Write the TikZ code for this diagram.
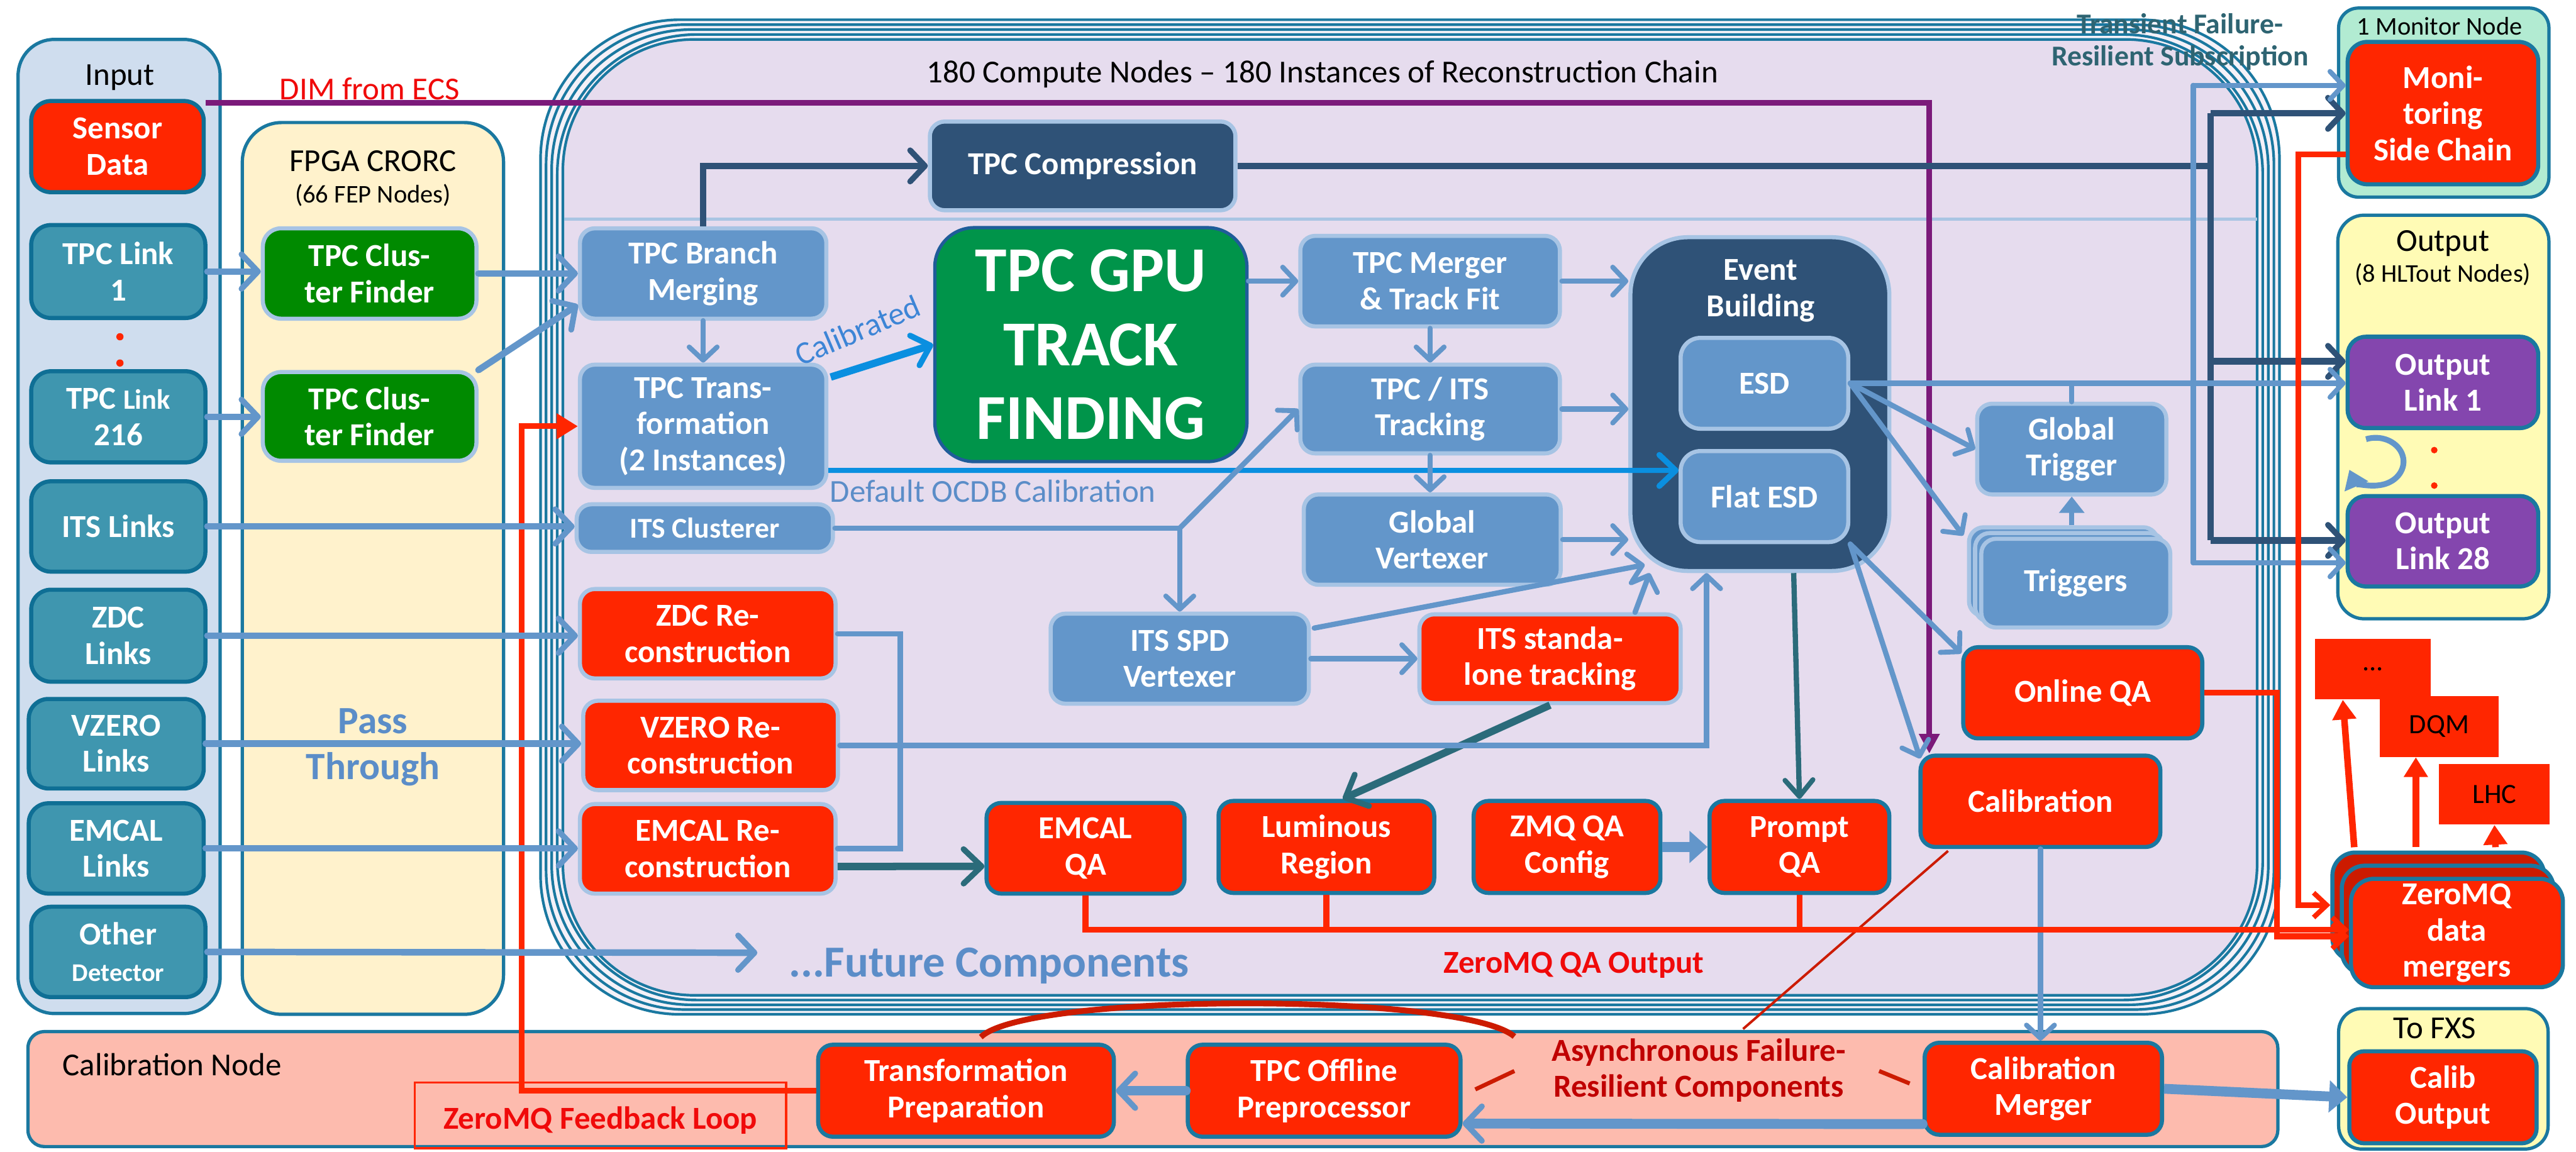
\documentclass[tikz,border=0pt]{standalone}
\usepackage{fontspec}
\setmainfont{Carlito}
\usetikzlibrary{arrows.meta,calc}

\definecolor{cTeal}{HTML}{1A78A0}
\definecolor{cInFill}{HTML}{CFDDEE}
\definecolor{cLink}{HTML}{3F96AF}
\definecolor{cLinkB}{HTML}{0F6F95}
\definecolor{cFpga}{HTML}{FFF2CC}
\definecolor{cCF}{HTML}{008A00}
\definecolor{cLB}{HTML}{6396CA}
\definecolor{cLBb}{HTML}{A7C4E4}
\definecolor{cNavy}{HTML}{2F5277}
\definecolor{cRed}{HTML}{FF2600}
\definecolor{cRedD}{HTML}{CC1B00}
\definecolor{cGPU}{HTML}{00944A}
\definecolor{cGPUb}{HTML}{1F5C99}
\definecolor{cLav}{HTML}{E6DCEE}
\definecolor{cLavO}{HTML}{F4F1F8}
\definecolor{cPurp}{HTML}{8446AE}
\definecolor{cDim}{HTML}{7B1A7A}
\definecolor{cDTeal}{HTML}{2B6B7A}
\definecolor{cBright}{HTML}{0A8FE0}
\definecolor{cYel}{HTML}{FFFBB5}
\definecolor{cMint}{HTML}{B2EBD2}
\definecolor{cSalmon}{HTML}{FDBBAE}
\definecolor{cDRed}{HTML}{C00000}
\definecolor{cTrans}{HTML}{2E6472}
\definecolor{cSep}{HTML}{A9C5E3}
\definecolor{cTextB}{HTML}{5B8DC8}
\definecolor{cCalTxt}{HTML}{3D85D6}
\definecolor{cPureRed}{HTML}{F00A0A}

\newcommand\nf{\fontsize{19.5}{22}\selectfont\bfseries}
\newcommand\lf{\fontsize{19.5}{22}\selectfont}
\newcommand\slf{\fontsize{15.5}{18}\selectfont}

% box from corner (x1,y1) to (x2,y2)
\newcommand\mkbox[7]{%
  \pgfmathsetmacro\bw{#4-#2}\pgfmathsetmacro\bh{#5-#3}%
  \pgfmathsetmacro\bcx{(#2+#4)/2}\pgfmathsetmacro\bcy{(#3+#5)/2}%
  \node[#6, minimum width=\bw pt, minimum height=\bh pt] (#1) at (\bcx,\bcy) {#7};}

\tikzset{
  nb/.style={rounded corners=9, align=center, text=white, inner sep=0, font=\nf, line width=2.5},
  lbn/.style={nb, fill=cLB, draw=cLBb},
  navyn/.style={nb, fill=cNavy, draw=cLBb},
  redl/.style={nb, fill=cRed, draw=cLBb},
  redt/.style={nb, fill=cRed, draw=cTeal},
  reddk/.style={nb, fill=cRedD, draw=cTeal},
  linkn/.style={nb, fill=cLink, draw=cLinkB, rounded corners=12},
  cfn/.style={nb, fill=cCF, draw=cLBb, rounded corners=11},
  outn/.style={nb, fill=cPurp, draw=cTeal, rounded corners=11},
  sqbox/.style={fill=cRed, inner sep=0, font=\fontsize{17}{20}\selectfont, text=black},
  cont/.style={draw=cTeal, line width=2},
  lbl/.style={font=\lf, text=black, inner sep=0},
  flowline/.style={draw=cLB, line width=3.2, line cap=round},
  flow/.style={flowline, -{Straight Barb[length=8pt,width=17pt,line width=3pt,round]}},
  flowbig/.style={draw=cLB, line width=4, line cap=round, -{Straight Barb[length=10pt,width=21pt,line width=3.5pt,round]}},
  flowtri/.style={draw=cLB, line width=3.2, -{Triangle[length=10pt,width=15pt]}},
  flowfat/.style={draw=cLB, line width=6, -{Triangle[length=11pt,width=19pt]}},
  navyline/.style={draw=cNavy, line width=4},
  navyarrow/.style={navyline, -{Straight Barb[length=9pt,width=19pt,line width=3.5pt,round]}},
  dteal/.style={draw=cDTeal, line width=3.2, -{Straight Barb[length=10pt,width=17pt,line width=3pt,round]}},
  dtealbig/.style={draw=cDTeal, line width=4.5, -{Straight Barb[length=11pt,width=21pt,line width=3.5pt,round]}},
  bright/.style={draw=cBright, line width=3, -{Straight Barb[length=10pt,width=19pt,line width=3.5pt,round]}},
  dimline/.style={draw=cDim, line width=3.5, -{Triangle[length=12pt,width=12pt]}},
  redline/.style={draw=cRed, line width=3.5},
  redarrow/.style={redline, -{Straight Barb[length=8pt,width=15pt,line width=3pt]}},
  redup/.style={draw=cRed, line width=4, -{Triangle[length=12pt,width=14pt]}},
  redfeed/.style={draw=cRed, line width=3.5, -{Triangle[length=13pt,width=15pt]}},
  asyn/.style={draw=cRedD},
}

\begin{document}
\begin{tikzpicture}[x=1pt,y=-1pt]
\useasboundingbox (0,0) rectangle (1568,701);
\fill[white] (0,0) rectangle (1568,701);

% ---------- containers ----------
\draw[cont, fill=cInFill, rounded corners=22] (11,24) rectangle (134,617);
\draw[cont, fill=cFpga, rounded corners=24] (147.5,74.6) rectangle (306.5,617.5);
\foreach \i in {0,...,3}
  \draw[cont, line width=1.6, fill=cLavO, rounded corners=85]
    ({329+3.4*\i},{12+3*\i}) rectangle ({1387.5-3.4*\i},{617.5-2.9*\i});
\draw[cont, line width=1.6, fill=cLav, rounded corners=80] (342.6,24) rectangle (1373.9,605.9);
\draw[cSep, line width=2] (343.5,133.5) -- (1374,133.5);
\draw[cont, fill=cMint, rounded corners=12] (1423.5,4.9) rectangle (1551.5,120);
\draw[cont, fill=cYel, rounded corners=16] (1423,131) rectangle (1551.5,376.7);
\draw[cont, fill=cSalmon, rounded corners=10] (17,628) rectangle (1386.5,698);
\draw[cont, fill=cYel, rounded corners=14] (1423.5,614) rectangle (1551,699.5);

% ---------- container titles ----------
\node[lbl] (tInput) at (73,47) {Input};
\node[lbl] (tFpga) at (227,98) {FPGA CRORC};
\node[lbl, font=\slf] (tFep) at (227,119) {(66 FEP Nodes)};
\node[lbl] (tCompute) at (805,45) {180 Compute Nodes -- 180 Instances of Reconstruction Chain};
\node[lbl, font=\slf] (tMon) at (1485,16) {1 Monitor Node};
\node[lbl] (tOut) at (1487,148) {Output};
\node[lbl, font=\slf] (tHlt) at (1487,167) {(8 HLTout Nodes)};
\node[lbl, anchor=west] (tCal) at (38,648) {Calibration Node};
\node[lbl] (tFxs) at (1482,626) {To FXS};

% ---------- input links ----------
\mkbox{sensor}{19}{61.5}{124}{117}{nb, fill=cRed, draw=cLinkB, rounded corners=12}{Sensor\\Data}
\mkbox{link1}{19}{137}{125}{193.6}{linkn}{TPC Link\\1}
\mkbox{link216}{19}{226}{125}{281.5}{linkn}{TPC {\fontsize{17}{20}\selectfont Link}\\216}
\mkbox{itslinks}{19}{293}{125}{348}{linkn}{ITS Links}
\mkbox{zdclinks}{19}{359}{125}{415}{linkn}{ZDC\\Links}
\mkbox{vzerolinks}{17.5}{425.5}{124}{480}{linkn}{VZERO\\Links}
\mkbox{emcallinks}{17.5}{489}{124}{544}{linkn}{EMCAL\\Links}
\mkbox{other}{19}{552}{125}{607}{linkn}{Other\\{\fontsize{15.5}{18}\selectfont Detector}}
\fill[cRed] (73,205) circle (2.2) (73,221) circle (2.2);

% ---------- FPGA ----------
\mkbox{cf1}{160}{139}{290}{194}{cfn}{TPC Clus-\\ter Finder}
\mkbox{cf2}{160}{226.5}{290}{280.5}{cfn}{TPC Clus-\\ter Finder}

% ---------- compute nodes ----------
\mkbox{comp}{566}{74}{752}{128}{navyn}{TPC Compression}
\mkbox{merge}{353}{139}{503}{194}{lbn}{TPC Branch\\Merging}
\mkbox{trans}{353}{222}{503}{297}{lbn}{TPC Trans-\\formation\\(2 Instances)}
\mkbox{itscl}{351}{307}{507}{336}{lbn, font=\fontsize{17.5}{20}\selectfont\bfseries}{ITS Clusterer}
\mkbox{gpu}{569}{138.6}{759}{281}{nb, fill=cGPU, draw=cGPUb, line width=2, rounded corners=24, font=\fontsize{39}{45}\selectfont\bfseries}{TPC GPU\\TRACK\\FINDING}
\mkbox{merger}{791.5}{143.6}{949.5}{198.7}{lbn}{TPC Merger\\\& Track Fit}
\mkbox{tpcits}{791.5}{222}{949.5}{276}{lbn}{TPC / ITS\\Tracking}
\mkbox{gvtx}{793.6}{301}{950}{356}{lbn}{Global\\Vertexer}
\mkbox{event}{992.4}{144.4}{1150}{347.6}{navyn, rounded corners=35}{}
\node[font=\nf, text=white, align=center] (eventlbl) at (1071.7,177) {Event\\Building};
\mkbox{esd}{1023}{205.7}{1125}{261}{lbn, rounded corners=12}{ESD}
\mkbox{flat}{1023}{274.6}{1125}{330}{lbn, rounded corners=12}{Flat ESD}
\mkbox{spd}{639.5}{373.6}{796.7}{428.4}{lbn}{ITS SPD\\Vertexer}
\mkbox{itssa}{864}{374}{1023}{428}{redl}{ITS standa-\\lone tracking}
\mkbox{zdcre}{353}{358.6}{508.6}{413}{redl}{ZDC Re-\\construction}
\mkbox{vzre}{355}{426.6}{510}{481}{redl}{VZERO Re-\\construction}
\mkbox{emre}{353}{489.5}{508.6}{544}{redl}{EMCAL Re-\\construction}
\mkbox{emqa}{600.5}{488.8}{721}{544}{redt}{EMCAL\\QA}
\mkbox{lumi}{741.7}{487.6}{873}{543.6}{redt}{Luminous\\Region}
\mkbox{zmq}{897}{487.6}{1010.7}{543.6}{redt}{ZMQ QA\\Config}
\mkbox{prompt}{1040.6}{487.6}{1150}{543.6}{redt}{Prompt\\QA}
\mkbox{calib}{1169}{460}{1315}{515.6}{redt}{Calibration}
\mkbox{onlineqa}{1195}{394}{1340.5}{449.5}{redt}{Online QA}
\mkbox{gtrig}{1203.5}{245.8}{1318.6}{301}{lbn}{Global\\Trigger}
\mkbox{trigA}{1198.5}{321}{1313.5}{375}{lbn}{}
\mkbox{trigB}{1202.2}{324.5}{1317.2}{378.5}{lbn}{}
\mkbox{trigC}{1206}{328}{1321}{382}{lbn}{Triggers}

% ---------- monitor / output ----------
\mkbox{monitoring}{1429}{25.5}{1545}{112.2}{redt, rounded corners=12}{Moni-\\toring\\Side Chain}
\mkbox{ol1}{1429}{205}{1545}{260.6}{outn}{Output\\Link 1}
\mkbox{ol28}{1429}{302}{1545}{357}{outn}{Output\\Link 28}
\fill[cRed] (1481.7,274) circle (2) (1481.7,295.6) circle (2);
\draw[draw=cLB, line width=3.5, -{Triangle[length=11pt,width=15pt]}]
  (1446,281) ++(-110:17 and 14.5) arc[start angle=-110, end angle=160, x radius=17, y radius=14.5];

% ---------- QA mergers and sinks ----------
\mkbox{dotsb}{1409}{389}{1479.7}{425.8}{sqbox}{...}
\mkbox{dqm}{1448.4}{423.8}{1521}{460.8}{sqbox}{DQM}
\mkbox{lhc}{1484.7}{465}{1552}{502}{sqbox}{LHC}
\mkbox{mergA}{1419.7}{519}{1548.7}{585}{reddk, rounded corners=14}{}
\mkbox{mergB}{1425.4}{527}{1554.4}{593}{reddk, rounded corners=14}{}
\mkbox{mergC}{1431}{535}{1560}{601}{redt, rounded corners=14}{ZeroMQ\\data\\mergers}

% ---------- calibration node ----------
\mkbox{fbbox}{252.5}{659}{478.5}{699}{draw=cRed, line width=1.3, inner sep=0}{}
\node[font=\nf, text=cPureRed] (fbtxt) at (365.5,682) {ZeroMQ Feedback Loop};
\mkbox{transprep}{498}{636}{678}{692}{redt}{Transformation\\Preparation}
\mkbox{offline}{723}{636}{889}{692}{redt}{TPC Offline\\Preprocessor}
\mkbox{cmerger}{1171.5}{634.8}{1316}{690.8}{redt}{Calibration\\Merger}
\mkbox{calibout}{1430}{640}{1544}{696}{redt}{Calib\\Output}

% ---------- helper coordinates ----------
\coordinate (futtip) at (461,580);
\coordinate (navyj) at (1345.6,101);
\coordinate (nvTop) at (1345.6,69);
\coordinate (nvMid) at (1345.6,220);
\coordinate (nvBot) at (1345.6,329);
\coordinate (lbTop) at (1335,52);
\coordinate (lbBot) at (1335,342.6);
\coordinate (trigin) at (1195,326);
\coordinate (fbcol) at (317.5,450);
\coordinate (brkB) at (548,516.6);
\coordinate (busY) at (0,566);
\coordinate (oqCol) at (1385.8,500);
\coordinate (monCol) at (1399,300);
\coordinate (arcEnd) at (921.8,631);
\coordinate (asynA) at (1061,626.4);

% ---------- feedback loop (drawn beneath the input flows) ----------
\draw[redfeed] (transprep.west) -| (fbcol) |- (trans.west);

% ---------- DIM from ECS ----------
\draw[dimline] ($(sensor.north east)+(0,2.5)$) -| ($(calib.north west)+(6.6,0)$);

% ---------- input flows ----------
\draw[flowbig] (link1.east) -- (cf1.west |- link1.east);
\draw[flowbig] (link216.east) -- (cf2.west |- link216.east);
\draw[flowbig] (cf1.east) -- (merge.west |- cf1.east);
\draw[flowbig] (cf2.north east) -- ($(merge.west)+(0,19)$);
\draw[flowbig] (itslinks.east) -- (itscl.west |- itslinks.east);
\draw[flowbig] (zdclinks.east) -- (zdcre.west |- zdclinks.east);
\draw[flowbig] (vzerolinks.east) -- (vzre.west |- vzerolinks.east);
\draw[flowbig] (emcallinks.east) -- (emre.west |- emcallinks.east);
\draw[flowbig] (other.east) -- (futtip);

% ---------- TPC chain ----------
\draw[flow] (merge.south) -- (trans.north);
\draw[navyarrow] (merge.north) |- (comp.west);
\draw[bright, line width=4.5] ($(trans.north east)+(1.4,8.8)$) -- (gpu.west);
\draw[bright] ($(trans.east)+(0,26.9)$) -- ($(flat.west)+(0,-15.9)$);
\draw[flow] (gpu.east |- merger.west) -- (merger.west);
\draw[flow] (merger.east) -- (event.west |- merger.east);
\draw[flow] (merger.south) -- (tpcits.north);
\draw[flow] (tpcits.east) -- (event.west |- tpcits.east);
\draw[flow] (tpcits.south) -- (tpcits.south |- gvtx.north);
\draw[flow] (gvtx.east) -- (event.west |- gvtx.east);

% ---------- ITS ----------
\draw[flowline] (itscl.east) -- (itscl.east -| spd.north);
\draw[flow] (itscl.east -| spd.north) -- (spd.north);
\draw[flow] (itscl.east -| spd.north) -- (tpcits.west);
\draw[flow] (spd.east) -- (itssa.west);
\draw[flow] ($(spd.north east)+(2,10)$) -- ($(event.south west)+(10,-5)$);
\draw[flow] ($(itssa.north east)+(-29,0)$) -- ($(event.south west)+(13,0)$);
\draw[dtealbig] (itssa.south) -- ($(lumi.north)+(10,0)$);

% ---------- other detectors ----------
\draw[flowline] (zdcre.east) -| (brkB) -- (emre.east |- brkB);
\draw[flow] (vzre.east) -| ($(event.south west)+(47.6,0)$);
\draw[dtealbig] ($(emre.east)+(0,10.75)$) -- ($(emqa.west)+(0,11)$);
\draw[flowfat] (zmq.east) -- (prompt.west);

% ---------- compressed data to monitor and output ----------
\draw[navyline] (comp.east) -- (navyj);
\draw[navyline] (nvTop) -- (nvBot);
\draw[navyarrow] (nvTop) -- (monitoring.west |- nvTop);
\draw[navyarrow] (nvMid) -- (ol1.west |- nvMid);
\draw[navyarrow] (nvBot) -- (ol28.west |- nvBot);

% ---------- ESD distribution ----------
\draw[flowline] (lbTop) -- (lbBot);
\draw[flow] (esd.east) -- (ol1.west |- esd.east);
\draw[flow] (lbTop) -- (monitoring.west |- lbTop);
\draw[flow] (lbBot) -- (ol28.west |- lbBot);
\draw[flowline] (gtrig.north) -- (gtrig.north |- esd.east);
\draw[flow] (esd.east) -- (gtrig.west);
\draw[flow] (esd.east) -- (trigin);
\draw[flowtri] (gtrig.south |- trigA.north) -- (gtrig.south);
\draw[flow] (flat.south east) -- ($(onlineqa.north west)+(0,5)$);
\draw[flow] (flat.south east) -- ($(calib.north west)+(1,3)$);
\draw[dteal] ($(event.south)+(20.6,0)$) -- (prompt.north);

% ---------- calibration ----------
\draw[flow] (calib.south) -- (calib.south |- cmerger.north);
\draw[flowfat] (cmerger.east) -- (calibout.west);
\draw[flowbig, line width=6] ($(cmerger.west)+(0,21.5)$) -- ($(offline.east)+(0,20)$);
\draw[flowbig, line width=6] (offline.west) -- (transprep.east);

% ---------- asynchronous components markers ----------
\draw[asyn, line width=3.5] ($(transprep.north)+(9,-3.4)$) .. controls (625,604) and (890,604) .. (arcEnd);
\draw[asyn, line width=1.5] (asynA) -- ($(calib.south west)+(18,1.2)$);
\draw[asyn, line width=2.5] (898,663.2) -- (921.8,652);
\draw[asyn, line width=2.5] (1143.8,652) -- (1162.4,659.6);

% ---------- QA outputs ----------
\draw[redarrow] (emqa.south) |- ($(mergC.west)+(0,-2)$);
\draw[redline] (lumi.south) -- (lumi.south |- busY);
\draw[redline] (prompt.south) -- (prompt.south |- busY);
\draw[redarrow] (onlineqa.east) -| (oqCol) |- ($(mergC.west)+(0,2)$);
\draw[redarrow] ($(monitoring.west)+(0,25)$) -| (monCol) |- ($(mergA.west)+(0,-1)$);
\draw[redup] ($(mergA.north)+(-51.2,-2)$) -- ($(dotsb.south)+(-18.3,0)$);
\draw[redup] ($(mergA.north)+(-13.7,-2)$) -- ($(dqm.south)+(-14.2,0)$);
\draw[redup] ($(mergA.north)+(34.8,-2)$) -- (lhc.south);

% ---------- free labels ----------
\node[font=\lf, text=cPureRed] (dimlbl) at (225,54) {DIM from ECS};
\node[font=\fontsize{23.5}{28}\selectfont\bfseries, text=cTextB, align=center] (passthr) at (227,455) {Pass\\Through};
\node[font=\fontsize{27}{30}\selectfont\bfseries, text=cTextB, anchor=west, inner sep=0] (future) at (480,588) {...Future Components};
\node[font=\nf, text=cPureRed] (zqo) at (958,587.5) {ZeroMQ QA Output};
\node[font=\fontsize{19.5}{22}\selectfont, text=cCalTxt, rotate=23, inner sep=0] (calibd) at (522,201) {Calibrated};
\node[font=\lf, text=cTextB, anchor=west, inner sep=0] (ocdb) at (505,299) {Default OCDB Calibration};
\node[font=\fontsize{17.5}{19.5}\selectfont\bfseries, text=cTrans, align=center] (transient) at (1327,25.5) {Transient Failure-\\Resilient Subscription};
\node[font=\nf, text=cDRed, align=center] (async) at (1034,651.5) {Asynchronous Failure-\\Resilient Components};
\end{tikzpicture}
\end{document}
